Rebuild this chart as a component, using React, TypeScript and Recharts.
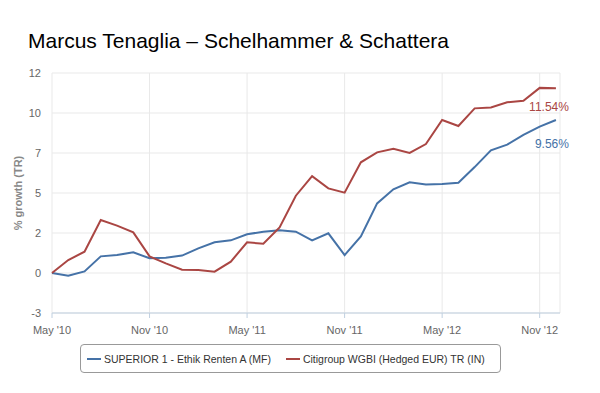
import React from "react";
import { LineChart, Line, XAxis, YAxis, CartesianGrid } from "recharts";

const months = Array.from({ length: 32 }, (_, i) => i);
const superior = [0, -0.17, 0.1, 1.04, 1.12, 1.29, 0.92, 0.96, 1.09, 1.54, 1.92, 2.04, 2.42, 2.58, 2.67, 2.58, 2.04, 2.48, 1.12, 2.29, 4.35, 5.23, 5.67, 5.53, 5.56, 5.64, 6.62, 7.67, 8.02, 8.63, 9.15, 9.56];
const citi = [0, 0.81, 1.33, 3.31, 2.96, 2.54, 1.04, 0.6, 0.2, 0.19, 0.08, 0.71, 1.92, 1.83, 2.85, 4.83, 6.05, 5.29, 5.02, 6.92, 7.54, 7.77, 7.5, 8.06, 9.56, 9.19, 10.29, 10.35, 10.67, 10.77, 11.57, 11.54];
const xTicks = [0, 6, 12, 18, 24, 30];
const xTickLabels = ["May '10", "Nov '10", "May '11", "Nov '11", "May '12", "Nov '12"];
const yTicks = [-2.5, 0, 2.5, 5, 7.5, 10, 12.5];
const seriesNames = ["SUPERIOR 1 - Ethik Renten A (MF)", "Citigroup WGBI (Hedged EUR) TR (IN)"];
const seriesColors = ["#4572A7", "#AA4643"];
const title = "Marcus Tenaglia \u2013 Schelhammer & Schattera";
const yTitle = "% growth (TR)";

const data = months.map((m, i) => ({ m, a: superior[i], b: citi[i] }));
const FONT = "'Liberation Sans', Arial, sans-serif";
const last = months.length - 1;

const endLabel = (color: string, dy: number) => (props: any) => {
  const { x, y, index, value } = props;
  if (index !== last) return null;
  return (
    <text x={x + 13} y={y + dy} textAnchor="end" fill={color} fontSize={12} fontFamily={FONT}>
      {Number(value).toFixed(2)}%
    </text>
  );
};

export default function App() {
  return (
    <div style={{ position: "absolute", left: 0, top: 0, width: 600, height: 393, background: "#fff", fontFamily: FONT }}>
      <div style={{ position: "absolute", left: 28, top: 29, fontSize: 21, lineHeight: "24px", color: "#000", whiteSpace: "nowrap" }}>
        {title}
      </div>
      <LineChart width={600} height={393} data={data} margin={{ top: 73, right: 40, left: 0, bottom: 50 }}>
        <CartesianGrid stroke="#e9e9e9" vertical={true} />
        <XAxis
          dataKey="m"
          type="number"
          domain={[0, 31.25]}
          ticks={xTicks}
          tickFormatter={(v: number) => xTickLabels[xTicks.indexOf(v)]}
          height={30}
          stroke="#C0D0E0"
          tickSize={5}
          tickMargin={8}
          tick={{ fill: "#666", fontSize: 11, fontFamily: FONT }}
        />
        <YAxis
          domain={[-2.5, 12.5]}
          ticks={yTicks}
          width={52}
          axisLine={false}
          tickLine={false}
          tickMargin={5}
          tickFormatter={(v: number) => String(Math.floor(v))}
          tick={{ fill: "#666", fontSize: 11, fontFamily: FONT }}
          label={{
            content: (p: any) => {
              const vb = p.viewBox;
              const cy = vb.y + vb.height / 2;
              return (
                <text x={22} y={cy} transform={`rotate(-90 22 ${cy})`} textAnchor="middle" fill="#888" fontSize={11} fontWeight="bold" fontFamily={FONT}>
                  {yTitle}
                </text>
              );
            },
          }}
        />
        <Line dataKey="a" stroke={seriesColors[0]} strokeWidth={2} dot={false} isAnimationActive={false} label={endLabel(seriesColors[0], 28)} />
        <Line dataKey="b" stroke={seriesColors[1]} strokeWidth={2} dot={false} isAnimationActive={false} label={endLabel(seriesColors[1], 23)} />
      </LineChart>
      <div
        style={{
          position: "absolute",
          left: 80,
          top: 344,
          width: 419,
          height: 27,
          border: "1px solid #999",
          borderRadius: 4,
          display: "flex",
          alignItems: "center",
          fontSize: 10.5,
          color: "#333",
          whiteSpace: "nowrap",
        }}
      >
        {seriesNames.map((n, i) => (
          <div key={n} style={{ display: "flex", alignItems: "center", marginLeft: i === 0 ? 6 : 15 }}>
            <span style={{ display: "inline-block", width: 14, height: 2, background: seriesColors[i], marginRight: 3 }} />
            <span>{n}</span>
          </div>
        ))}
      </div>
    </div>
  );
}
